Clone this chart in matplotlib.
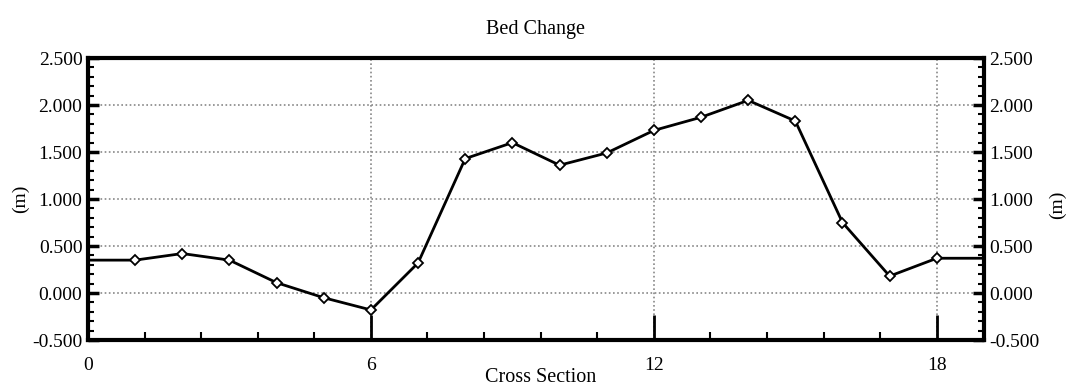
import numpy as np
import matplotlib
matplotlib.use("Agg")
import matplotlib.pyplot as plt
from matplotlib.ticker import MultipleLocator, FormatStrFormatter

# Bed change at each cross section (m)
sections = [1, 2, 3, 4, 5, 6, 7, 8, 9, 10, 11, 12, 13, 14, 15, 16, 17, 18]
bed_change = [0.35, 0.42, 0.35, 0.11, -0.05, -0.18, 0.32, 1.43, 1.60, 1.36,
              1.49, 1.73, 1.87, 2.05, 1.83, 0.75, 0.18, 0.37]
x_min, x_max = 0, 19

plt.rcParams["font.family"] = ["Liberation Serif", "DejaVu Serif"]

fig = plt.figure(figsize=(10.7, 3.87), dpi=100)
ax = fig.add_axes([0.0822, 0.1214, 0.8374, 0.7286])

# line runs flat to the plot edges on both sides
line_x = [x_min] + sections + [x_max]
line_y = [bed_change[0]] + bed_change + [bed_change[-1]]
ax.plot(line_x, line_y, color="black", lw=2, zorder=3)
ax.plot(sections, bed_change, ls="none", marker="D", ms=5.5,
        mfc="white", mec="black", mew=1.3, zorder=4)

ax.set_xlim(x_min, x_max)
ax.set_ylim(-0.5, 2.5)
ax.xaxis.set_major_locator(MultipleLocator(6))
ax.xaxis.set_minor_locator(MultipleLocator(1.2))
ax.yaxis.set_major_locator(MultipleLocator(0.5))
ax.yaxis.set_minor_locator(MultipleLocator(0.1))
ax.yaxis.set_major_formatter(FormatStrFormatter("%.3f"))

ax.grid(True, which="major", color="#888888", ls=(0, (1, 1.5)), lw=1.2)

for side in ax.spines.values():
    side.set_linewidth(3)

ax.tick_params(axis="x", which="major", direction="in", length=18, width=2,
               top=False, labelsize=14, pad=12)
ax.tick_params(axis="x", which="minor", direction="in", length=6, width=1.5,
               top=False)
ax.tick_params(axis="y", which="major", direction="in", length=8, width=2.5,
               left=True, right=True, labelleft=True, labelright=True,
               labelsize=14, pad=4)
ax.tick_params(axis="y", which="minor", direction="in", length=4, width=1.5,
               left=True, right=True)

ax.set_title("Bed Change", fontsize=14.5, pad=17)
ax.set_xlabel("Cross Section", fontsize=14.5)
ax.xaxis.set_label_coords(0.505, -0.1)
ax.set_ylabel("(m)", fontsize=14, labelpad=2)
fig.text(0.988, 0.47, "(m)", fontsize=14, rotation=90, ha="center", va="center")

fig.savefig("out.png", dpi=100)
